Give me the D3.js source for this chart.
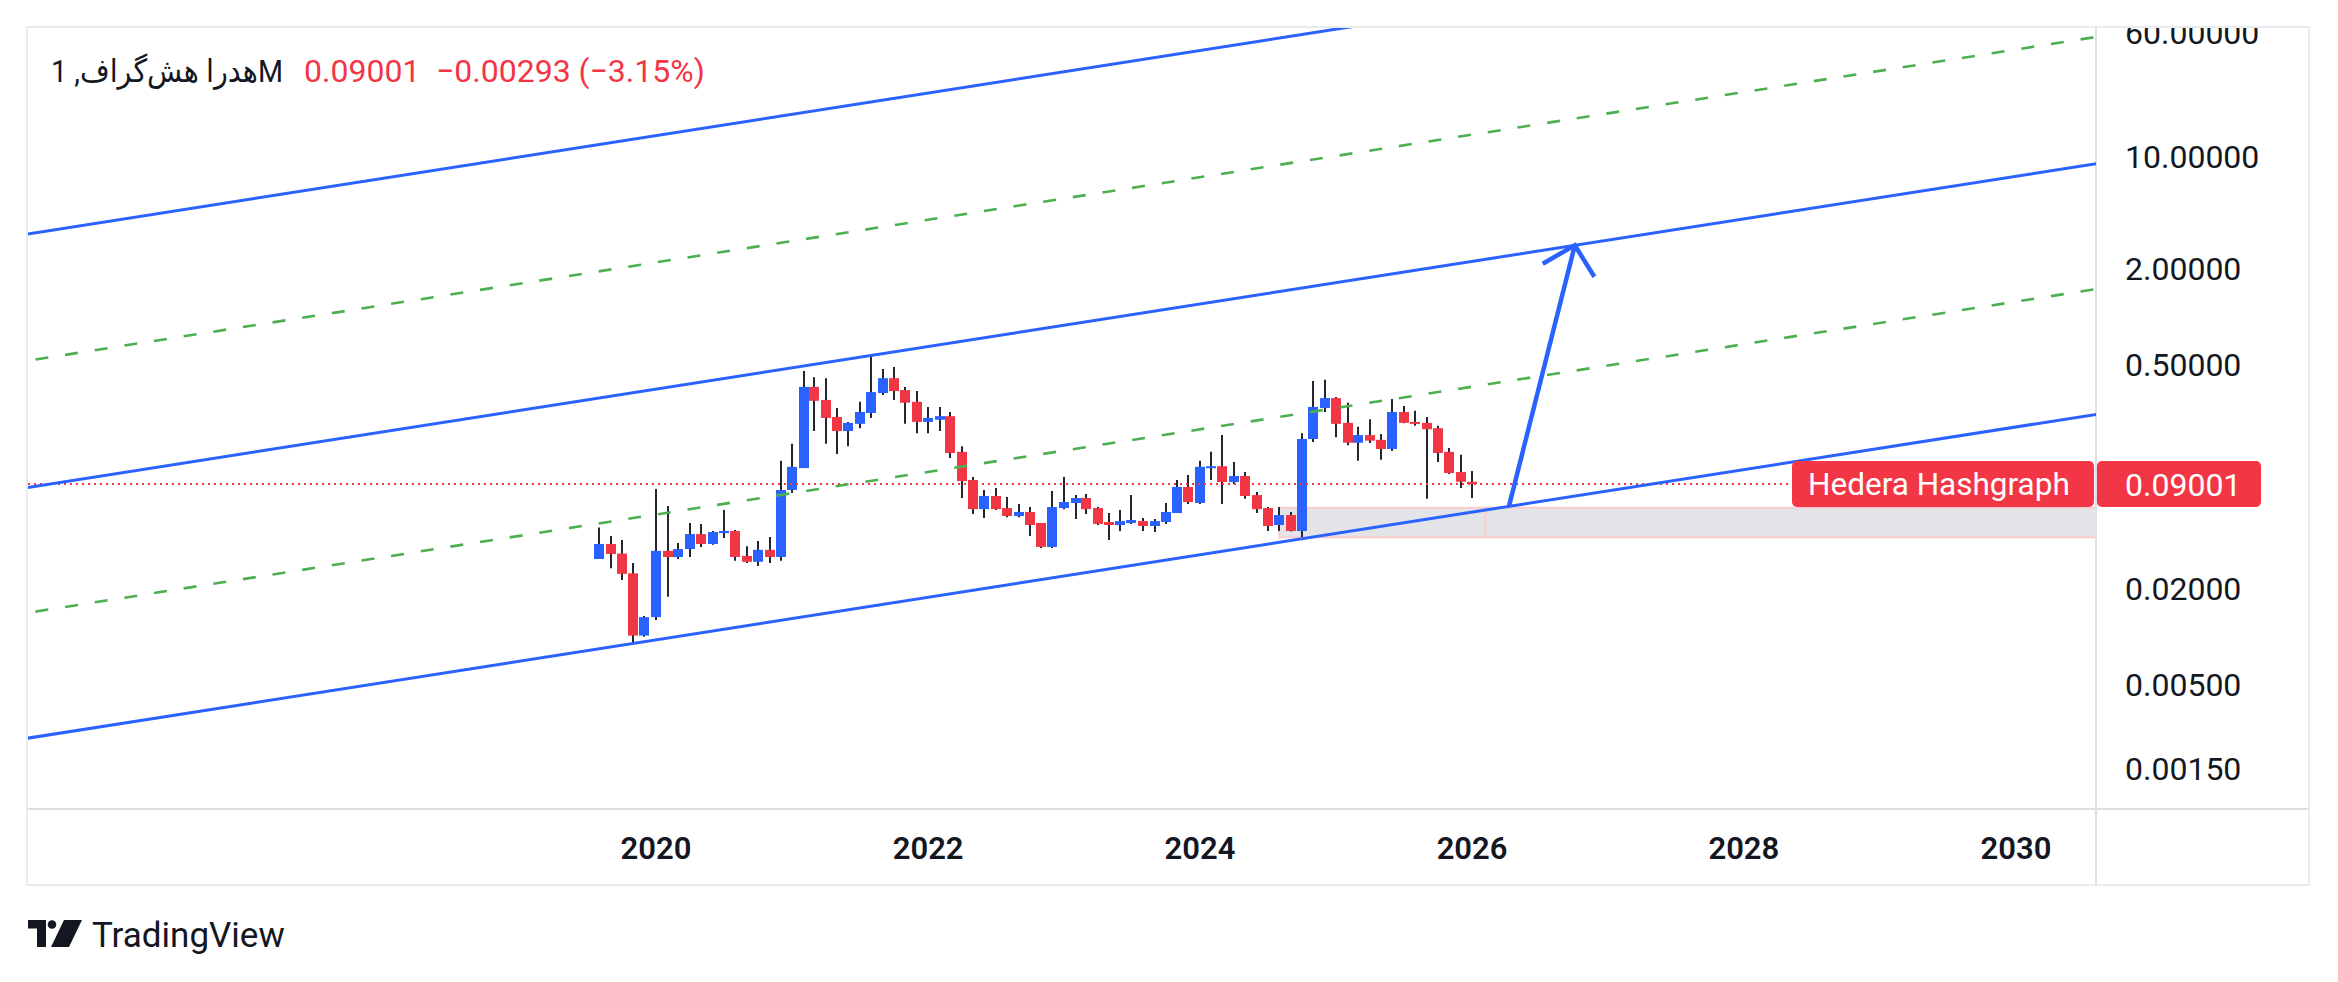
<!DOCTYPE html>
<html>
<head>
<meta charset="utf-8">
<script src="https://cdn.jsdelivr.net/npm/d3@7"></script>
<style>
  html, body { margin: 0; padding: 0; background: #fff; }
  svg { display: block; font-family: Roboto, 'DejaVu Sans', sans-serif; }
</style>
</head>
<body>
<svg id="chart" width="2338" height="982"></svg>
<script>
// monthly candles, Aug 2019 .. Jan 2026
const firstMonth = Date.UTC(2019, 7, 1);
const lastMonth = Date.UTC(2026, 0, 1);
const opens = [0.0306, 0.0380, 0.0331, 0.0249, 0.01016, 0.01326, 0.0344, 0.0315, 0.0353, 0.0438,
  0.0380, 0.0444, 0.0458, 0.0320, 0.0294, 0.0349, 0.0315, 0.0826, 0.1132, 0.364,
  0.302, 0.236, 0.193, 0.214, 0.250, 0.333, 0.413, 0.348, 0.294, 0.220,
  0.227, 0.239, 0.143, 0.0954, 0.0627, 0.0758, 0.0637, 0.0568, 0.0602, 0.0514,
  0.0364, 0.0637, 0.0685, 0.0736, 0.0637, 0.0521, 0.0499, 0.0514, 0.0528, 0.0492,
  0.0521, 0.0593, 0.0863, 0.0685, 0.1132, 0.1163, 0.0926, 0.1010, 0.0768, 0.0637,
  0.0499, 0.0576, 0.0458, 0.172, 0.269, 0.310, 0.217, 0.163, 0.182, 0.170,
  0.149, 0.254, 0.220, 0.217, 0.201, 0.143, 0.1069, 0.09294];
const highs = [0.0481, 0.0426, 0.0402, 0.0289, 0.01347, 0.0838, 0.0656, 0.0385, 0.0514, 0.0507,
  0.0458, 0.0620, 0.0464, 0.0368, 0.0397, 0.0420, 0.1256, 0.1605, 0.458, 0.419,
  0.413, 0.269, 0.220, 0.294, 0.585, 0.471, 0.485, 0.364, 0.343, 0.273,
  0.273, 0.254, 0.155, 0.0996, 0.0826, 0.0850, 0.0746, 0.0675, 0.0646, 0.0514,
  0.0814, 0.0996, 0.0768, 0.0780, 0.0646, 0.0593, 0.0620, 0.0768, 0.0552, 0.0544,
  0.0685, 0.0954, 0.1026, 0.1256, 0.143, 0.182, 0.1236, 0.1069, 0.0802, 0.0646,
  0.0646, 0.0602, 0.187, 0.397, 0.403, 0.315, 0.290, 0.205, 0.229, 0.185,
  0.306, 0.277, 0.258, 0.236, 0.208, 0.151, 0.137, 0.1084];
const lows = [0.0306, 0.0268, 0.0226, 0.00918, 0.01001, 0.01273, 0.01776, 0.0306, 0.0315, 0.0364,
  0.0375, 0.0414, 0.0298, 0.0289, 0.0277, 0.0289, 0.0298, 0.0791, 0.1132, 0.193,
  0.1605, 0.1388, 0.155, 0.201, 0.233, 0.324, 0.302, 0.214, 0.187, 0.187,
  0.193, 0.1308, 0.0736, 0.0584, 0.0552, 0.0620, 0.0559, 0.0559, 0.0426, 0.0358,
  0.0358, 0.0627, 0.0544, 0.0584, 0.0499, 0.0402, 0.0458, 0.0507, 0.0458, 0.0451,
  0.0507, 0.0593, 0.0675, 0.0675, 0.0954, 0.0675, 0.0900, 0.0727, 0.0593, 0.0458,
  0.0458, 0.0455, 0.0420, 0.1647, 0.254, 0.1766, 0.1574, 0.1256, 0.1626, 0.1277,
  0.145, 0.216, 0.208, 0.0727, 0.1236, 0.1040, 0.0850, 0.0736];
const closes = [0.0380, 0.0329, 0.0247, 0.01016, 0.01326, 0.0344, 0.0315, 0.0353, 0.0438, 0.0380,
  0.0451, 0.0458, 0.0315, 0.0294, 0.0349, 0.0315, 0.0826, 0.1153, 0.364, 0.298,
  0.233, 0.193, 0.217, 0.254, 0.338, 0.413, 0.343, 0.290, 0.220, 0.233,
  0.239, 0.1408, 0.0939, 0.0627, 0.0758, 0.0627, 0.0568, 0.0602, 0.0499, 0.0364,
  0.0646, 0.0695, 0.0736, 0.0627, 0.0507, 0.0499, 0.0528, 0.0536, 0.0492, 0.0528,
  0.0602, 0.0863, 0.0695, 0.1153, 0.1163, 0.0926, 0.1010, 0.0758, 0.0627, 0.0492,
  0.0576, 0.0458, 0.172, 0.273, 0.310, 0.214, 0.163, 0.182, 0.168, 0.149,
  0.254, 0.217, 0.214, 0.198, 0.1408, 0.1054, 0.09294, 0.09001];

// price axis and time axis labels
const priceTicks = [60, 10, 2, 0.5, 0.02, 0.005, 0.0015];
const yearTicks = [2020, 2022, 2024, 2026, 2028, 2030];
const lastPrice = 0.09001;
const symbolName = 'Hedera Hashgraph';
const titleText = 'هدرا هش\u200cگراف, 1M';
const changeText = '\u22120.00293 (\u22123.15%)';

// drawn channel: price of each line at the two anchor dates
const channelDates = [Date.UTC(2015, 0, 1), Date.UTC(2031, 0, 1)];
const blueLines = [[2.929, 393.8], [0.07626, 10.25], [0.002068, 0.2779]];
const greenLines = [[0.4727, 63.53], [0.01256, 1.688]];

// support zone and projection arrow
const zoneDates = [Date.UTC(2024, 7, 1), Date.UTC(2026, 1, 6)];
const zonePrices = [0.0640, 0.0418];
const arrowFrom = [Date.UTC(2026, 3, 10), 0.0653];
const arrowTo = [Date.UTC(2026, 9, 4), 2.795];

const blue = '#2962FF', red = '#F23645', green = '#4CAF50', ink = '#131722';
const pane = {left: 28, top: 28, right: 2096, bottom: 809};
const frame = {left: 27, top: 27, right: 2309, bottom: 885};

const x = d3.scaleUtc().domain([Date.UTC(2020, 0, 1), Date.UTC(2030, 0, 1)]).range([656, 2016]);
const y = d3.scaleLog().domain([0.000838, 64.66]).range([809, 27]);

const svg = d3.select('#chart');
const defs = svg.append('defs');
defs.append('clipPath').attr('id', 'paneClip').append('rect')
  .attr('x', pane.left).attr('y', pane.top)
  .attr('width', pane.right - pane.left).attr('height', pane.bottom - pane.top);
defs.append('clipPath').attr('id', 'axisClip').append('rect')
  .attr('x', pane.right).attr('y', pane.top)
  .attr('width', frame.right - pane.right).attr('height', pane.bottom - pane.top);

// frame
svg.append('rect').attr('x', frame.left).attr('y', frame.top)
  .attr('width', frame.right - frame.left).attr('height', frame.bottom - frame.top)
  .attr('fill', 'none').attr('stroke', '#E9EBEF').attr('stroke-width', 2);
svg.append('line').attr('x1', pane.right).attr('x2', pane.right).attr('y1', frame.top).attr('y2', frame.bottom)
  .attr('stroke', '#DCDFE4').attr('stroke-width', 2);
svg.append('line').attr('x1', frame.left).attr('x2', frame.right).attr('y1', pane.bottom).attr('y2', pane.bottom)
  .attr('stroke', '#DCDFE4').attr('stroke-width', 2);

const plot = svg.append('g').attr('clip-path', 'url(#paneClip)');

// zone rectangle, extended to the right
const zoneTop = y(zonePrices[0]), zoneBot = y(zonePrices[1]);
plot.append('rect').attr('x', x(zoneDates[0])).attr('y', zoneTop)
  .attr('width', pane.right - x(zoneDates[0]) + 2).attr('height', zoneBot - zoneTop)
  .attr('fill', '#E3E4E7').attr('stroke', '#FBCDD1').attr('stroke-width', 2);
plot.append('line').attr('x1', x(zoneDates[1])).attr('x2', x(zoneDates[1]))
  .attr('y1', zoneTop).attr('y2', zoneBot).attr('stroke', '#FBCDD1').attr('stroke-width', 2);

// candles
const months = d3.utcMonth.range(firstMonth, lastMonth + 1);
const candles = months.map((d, i) => ({date: d, o: opens[i], h: highs[i], l: lows[i], c: closes[i]}));
const bodyW = 10;
plot.selectAll('line.wick').data(candles).join('line').attr('class', 'wick')
  .attr('x1', d => Math.round(x(d.date))).attr('x2', d => Math.round(x(d.date)))
  .attr('y1', d => y(d.h)).attr('y2', d => y(d.l))
  .attr('stroke', '#23262F').attr('stroke-width', 2);
plot.selectAll('rect.body').data(candles).join('rect').attr('class', 'body')
  .attr('x', d => Math.round(x(d.date)) - bodyW / 2).attr('width', bodyW)
  .attr('y', d => y(Math.max(d.o, d.c)))
  .attr('height', d => Math.max(2, Math.abs(y(d.o) - y(d.c))))
  .attr('fill', d => d.c >= d.o ? blue : red);

// last price line
plot.append('line').attr('x1', pane.left).attr('x2', 1792)
  .attr('y1', y(lastPrice)).attr('y2', y(lastPrice))
  .attr('stroke', red).attr('stroke-width', 2).attr('stroke-dasharray', '2,4');

// channel lines
const chLine = d3.line().x(d => x(d[0])).y(d => y(d[1]));
greenLines.forEach(p => {
  plot.append('path').attr('d', chLine([[channelDates[0], p[0]], [channelDates[1], p[1]]]))
    .attr('stroke', green).attr('stroke-width', 2.6).attr('stroke-dasharray', '13,17').attr('fill', 'none');
});
blueLines.forEach(p => {
  plot.append('path').attr('d', chLine([[channelDates[0], p[0]], [channelDates[1], p[1]]]))
    .attr('stroke', blue).attr('stroke-width', 3).attr('fill', 'none');
});

// projection arrow
const ax0 = x(arrowFrom[0]), ay0 = y(arrowFrom[1]);
const ax1 = x(arrowTo[0]), ay1 = y(arrowTo[1]);
const ang = Math.atan2(ay0 - ay1, ax0 - ax1);
const wing = 37, spread = 46 * Math.PI / 180;
plot.append('line').attr('x1', ax0).attr('y1', ay0).attr('x2', ax1).attr('y2', ay1)
  .attr('stroke', blue).attr('stroke-width', 4.5);
plot.append('path')
  .attr('d', d3.line()([
    [ax1 + wing * Math.cos(ang + spread), ay1 + wing * Math.sin(ang + spread)],
    [ax1, ay1],
    [ax1 + wing * Math.cos(ang - spread), ay1 + wing * Math.sin(ang - spread)]]))
  .attr('stroke', blue).attr('stroke-width', 4.5).attr('fill', 'none');

// price axis
const axisG = svg.append('g').attr('clip-path', 'url(#axisClip)');
axisG.selectAll('text').data(priceTicks).join('text')
  .attr('x', 2125).attr('y', d => y(d)).attr('dy', '0.36em')
  .attr('font-size', 32).attr('fill', ink).text(d => d.toFixed(5));

// last price labels
const ly = y(lastPrice);
svg.append('rect').attr('x', 1792).attr('y', ly - 23).attr('width', 302).attr('height', 46)
  .attr('rx', 5).attr('fill', red);
svg.append('rect').attr('x', 2097).attr('y', ly - 23).attr('width', 164).attr('height', 46)
  .attr('rx', 5).attr('fill', red);
svg.append('text').attr('x', 1808).attr('y', ly).attr('dy', '0.36em')
  .attr('font-size', 31.5).attr('fill', '#fff').text(symbolName);
svg.append('text').attr('x', 2125).attr('y', ly).attr('dy', '0.36em')
  .attr('font-size', 32).attr('fill', '#fff').text(lastPrice.toFixed(5));

// time axis
svg.append('g').selectAll('text').data(yearTicks).join('text')
  .attr('x', d => x(Date.UTC(d, 0, 1))).attr('y', 848).attr('dy', '0.36em')
  .attr('text-anchor', 'middle').attr('font-size', 31).attr('font-weight', 600)
  .attr('fill', ink).text(d => d);

// header
svg.append('text').attr('x', 51).attr('y', 82).attr('direction', 'ltr')
  .attr('font-size', 32).attr('fill', ink)
  .attr('textLength', 232).attr('lengthAdjust', 'spacingAndGlyphs').text(titleText);
svg.append('text').attr('x', 304).attr('y', 82).attr('font-size', 32).attr('fill', red)
  .text(lastPrice.toFixed(5));
svg.append('text').attr('x', 436).attr('y', 82).attr('font-size', 32).attr('fill', red)
  .text(changeText);

// TradingView logo
const logo = svg.append('g').attr('fill', ink);
logo.append('path').attr('d', 'M28,920 H46 V947 H37 V928.5 H28 Z');
logo.append('circle').attr('cx', 52).attr('cy', 924.5).attr('r', 4.3);
logo.append('path').attr('d', 'M64,920 H82 L69,947 H51 Z');
logo.append('text').attr('x', 92).attr('y', 947).attr('font-size', 35).attr('fill', ink)
  .text('TradingView');
</script>
</body>
</html>
